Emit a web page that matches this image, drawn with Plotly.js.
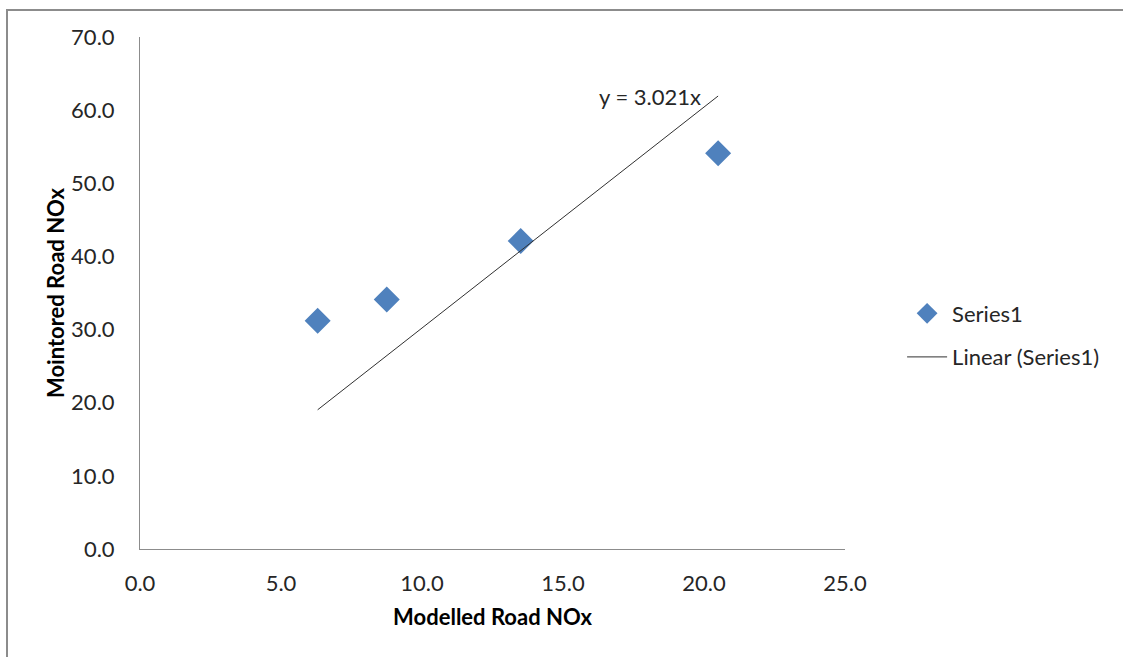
<!DOCTYPE html>
<html>
<head>
<meta charset="utf-8">
<script src="https://cdn.plot.ly/plotly-3.0.1.min.js"></script>
<style>
html,body{margin:0;padding:0;background:#fff;}
#wrap{position:relative;width:1123px;height:657px;}
#chart{width:1123px;height:657px;}
#frame{position:absolute;left:6px;top:9px;right:-4px;bottom:-4px;border-top:2px solid #8c8c8c;border-left:2px solid #8c8c8c;pointer-events:none;}
</style>
</head>
<body>
<div id="wrap"><div id="chart"></div><div id="frame"></div></div>
<script>
var seriesName = 'Series1';
var trendName = 'Linear (Series1)';
var modelled = [6.3, 8.75, 13.5, 20.5];
var monitored = [31.2, 34.1, 42.1, 54.1];
var slope = 3.021;
var xTicks = [0, 5, 10, 15, 20, 25];
var yTicks = [0, 10, 20, 30, 40, 50, 60, 70];
var xTitle = 'Modelled Road NOx';
var yTitle = 'Mointored Road NOx';
var eqText = 'y = 3.021x';

var xmin = Math.min.apply(null, modelled), xmax = Math.max.apply(null, modelled);
var trendX = [xmin, xmax];
var trendY = trendX.map(function(v){return slope*v;});

var font = {family: 'Lato, "Open Sans", sans-serif', size: 22, color: '#262626'};
var titleFont = {family: font.family, size: 22, color: '#000', weight: 'bold'};

var data = [
  {x: modelled, y: monitored, mode: 'markers', type: 'scatter', name: seriesName, legendgroup: 'a',
   marker: {symbol: 'diamond', size: 20, color: '#4F81BD', line: {width: 0}}},
  {x: trendX, y: trendY, mode: 'lines', type: 'scatter', name: trendName, legendgroup: 'b',
   line: {color: '#303030', width: 1}}
];

var layout = {
  width: 1123, height: 657,
  margin: {l: 140, r: 278, t: 37, b: 108, pad: 0},
  paper_bgcolor: '#fff', plot_bgcolor: '#fff',
  font: font,
  showlegend: true,
  legend: {x: 1.081, y: 0.417, xanchor: 'left', yanchor: 'middle', font: font,
           bgcolor: 'rgba(0,0,0,0)', tracegroupgap: 12, itemwidth: 40},
  xaxis: {range: [0, 25], tickvals: xTicks, ticktext: xTicks.map(function(v){return v.toFixed(1);}),
          showgrid: false, zeroline: false, showline: true, linecolor: '#8c8c8c', linewidth: 1,
          ticks: '', ticklabelstandoff: 15, tickfont: font, fixedrange: true,
          title: {text: xTitle, font: titleFont, standoff: 14}},
  yaxis: {range: [0, 70], tickvals: yTicks, ticktext: yTicks.map(function(v){return v.toFixed(1);}),
          showgrid: false, zeroline: false, showline: true, linecolor: '#8c8c8c', linewidth: 1,
          ticks: '', ticklabelstandoff: 20, tickfont: font, fixedrange: true,
          title: {text: yTitle, font: titleFont, standoff: 0}},
  annotations: [
    {x: 16.2, y: 61.8, xref: 'x', yref: 'y', text: eqText, showarrow: false,
     xanchor: 'left', yanchor: 'middle', font: font}
  ]
};

Plotly.newPlot('chart', data, layout, {displayModeBar: false, staticPlot: true});
</script>
</body>
</html>
